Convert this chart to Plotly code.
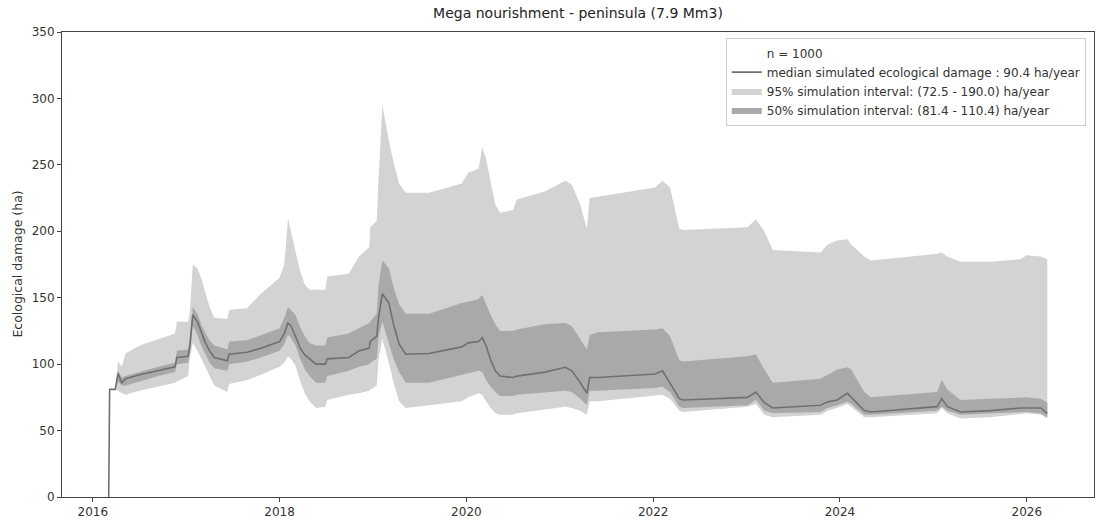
import plotly.graph_objects as go

# decimal years
years = [2016.17, 2016.18, 2016.24, 2016.27, 2016.31, 2016.35, 2016.50, 2016.70, 2016.88, 2016.90,
         2017.02, 2017.04, 2017.07, 2017.12, 2017.16, 2017.20, 2017.25, 2017.30, 2017.44, 2017.46,
         2017.65, 2017.80, 2018.00, 2018.05, 2018.09, 2018.12, 2018.17, 2018.22, 2018.27, 2018.32,
         2018.39, 2018.49, 2018.51, 2018.74, 2018.85, 2018.96, 2018.97, 2019.04, 2019.06, 2019.10,
         2019.17, 2019.22, 2019.28, 2019.35, 2019.60, 2019.95, 2020.02, 2020.13, 2020.17, 2020.21,
         2020.26, 2020.31, 2020.36, 2020.50, 2020.54, 2020.84, 2021.06, 2021.13, 2021.22, 2021.29,
         2021.32, 2021.41, 2022.02, 2022.10, 2022.18, 2022.28, 2022.32, 2023.01, 2023.10, 2023.19,
         2023.28, 2023.79, 2023.87, 2023.97, 2024.08, 2024.12, 2024.26, 2024.33, 2025.04, 2025.09,
         2025.15, 2025.29, 2025.61, 2025.93, 2026.00, 2026.15, 2026.22]

p025 = [0, 81, 81, 80, 78, 77, 80, 83, 86, 87,
        91, 105, 116, 110, 104, 98, 91, 84, 79, 85,
        88, 92, 98, 101, 106, 104, 99, 87, 78, 72,
        67, 68, 73, 77, 78, 80, 81, 84, 104, 119,
        101, 86, 72, 67, 69, 72, 75, 78, 77, 72,
        67, 63, 62, 62, 63, 66, 68, 67, 65, 62,
        72, 72, 76, 77, 74, 65, 64, 68, 70, 62,
        60, 62, 65, 67, 70, 68, 60, 60, 63, 67,
        63, 59, 60, 62, 63, 62, 59]

p25 = [0, 81, 81, 87, 84, 84, 87, 91, 94, 100,
       101, 108, 129, 122, 114, 108, 101, 97, 95, 100,
       102, 105, 110, 115, 122, 120, 114, 104, 96, 91,
       86, 86, 91, 95, 98, 100, 101, 104, 120, 132,
       116, 104, 94, 86, 86, 92, 93, 95, 94, 88,
       83, 79, 76, 76, 77, 79, 80, 79, 74, 69,
       80, 80, 82, 83, 79, 68, 67, 69, 73, 65,
       63, 64, 67, 69, 71.6, 70, 62, 62, 65, 68,
       65, 62, 63, 64, 64, 63, 60]

median = [0, 81, 81, 93, 86, 89, 92, 95, 98, 105,
          106, 114, 137, 132, 124, 117, 110, 105, 102.5, 107.5,
          109, 112, 117, 123, 131, 129, 121, 112, 107, 104,
          100, 100, 104, 105, 110, 112, 117, 121, 135, 153,
          146, 130, 115, 107.5, 108, 113, 116, 117, 120, 114,
          103, 95, 91, 90, 91, 94, 97.6, 95, 86, 78,
          90, 90, 92.6, 95, 86, 74, 73, 75, 79, 71,
          67, 69, 71.6, 73, 78, 75, 65, 64, 68, 74,
          68, 64, 65, 67, 67, 67, 63]

p75 = [0, 81, 81, 95, 90, 91, 94, 98, 101, 110,
       111, 120, 143, 138, 130, 124, 118, 114, 111, 117,
       118, 122, 127, 135, 143, 141, 137, 128, 121, 116,
       114, 114, 120, 123, 127, 131, 132, 138, 160, 178,
       172, 158, 145, 138, 138, 146, 147, 149, 152, 145,
       137, 130, 125, 125, 126, 130, 131, 128.6, 119, 111,
       122, 124, 126, 127, 121, 103, 102, 106, 107.5, 96,
       86, 89, 92, 96, 97.6, 96, 79, 75, 79, 88,
       81, 73, 74, 75, 75, 74, 71]

p975 = [0, 81, 81, 102, 98, 108, 114, 119, 123, 132,
        132, 140, 175, 172, 165, 155, 143, 135, 134, 141,
        142, 153, 165, 175, 210, 200, 185, 170, 160, 156,
        156, 156, 166, 168, 181, 188, 203, 208, 240, 295,
        268, 252, 236, 229, 229, 236, 244, 247, 263, 255,
        237, 220, 214, 216, 224, 230, 238, 235, 220, 202,
        225, 226, 233, 238, 233, 202, 201, 203, 209, 200,
        186, 184, 190, 193, 194, 190, 181, 178, 183, 184,
        181, 177, 177, 179, 182, 181, 179]

title = "Mega nourishment - peninsula (7.9 Mm3)"
label_n = "n = 1000"
label_med = "median simulated ecological damage : 90.4 ha/year"
label_95 = "95% simulation interval: (72.5 - 190.0) ha/year"
label_50 = "50% simulation interval: (81.4 - 110.4) ha/year"

light = "#d3d3d3"
dark = "#a9a9a9"
line_col = "#707070"

fig = go.Figure()

# legend-only entry for n
fig.add_trace(go.Scatter(x=[None], y=[None], mode="lines", name=label_n,
                         line=dict(color="rgba(0,0,0,0)", width=1)))
# median legend placeholder order handled by traceorder normal; draw bands first
fig.add_trace(go.Scatter(x=years, y=median, mode="lines", line=dict(width=1.6, color=line_col),
                         name=label_med, visible="legendonly", showlegend=False))

# 95% band
fig.add_trace(go.Scatter(x=years, y=p025, mode="lines", line=dict(width=0, color=light),
                         showlegend=False, hoverinfo="skip"))
fig.add_trace(go.Scatter(x=years, y=p975, mode="lines", line=dict(width=0, color=light),
                         fill="tonexty", fillcolor=light, name=label_95, legendrank=3))
# 50% band
fig.add_trace(go.Scatter(x=years, y=p25, mode="lines", line=dict(width=0, color=dark),
                         showlegend=False, hoverinfo="skip"))
fig.add_trace(go.Scatter(x=years, y=p75, mode="lines", line=dict(width=0, color=dark),
                         fill="tonexty", fillcolor=dark, name=label_50, legendrank=4))
# median
fig.add_trace(go.Scatter(x=years, y=median, mode="lines", line=dict(width=1.6, color=line_col),
                         name=label_med, legendrank=2))
fig.data[0].legendrank = 1

axis_common = dict(showline=True, mirror=True, linecolor="#444", linewidth=1,
                   ticks="outside", ticklen=4, tickcolor="#444", showgrid=False,
                   zeroline=False, tickfont=dict(size=12, color="#333"))

fig.update_layout(
    width=1100, height=524,
    margin=dict(l=62, r=5, t=32, b=21),
    paper_bgcolor="white", plot_bgcolor="white",
    font=dict(family="DejaVu Sans", size=12, color="#333"),
    title=dict(text=title, x=0.5, xref="paper", xanchor="center", y=0.985, yanchor="top",
               font=dict(size=14, color="#222")),
    xaxis=dict(range=[2015.67, 2026.72], tickvals=[2016, 2018, 2020, 2022, 2024, 2026],
               ticktext=["2016", "2018", "2020", "2022", "2024", "2026"], **axis_common),
    yaxis=dict(range=[0, 350], tickvals=[0, 50, 100, 150, 200, 250, 300, 350], **axis_common),
    showlegend=True,
    legend=dict(x=0.992, y=0.988, xanchor="right", yanchor="top", traceorder="normal",
                bgcolor="rgba(255,255,255,0.85)", bordercolor="#cccccc", borderwidth=1,
                font=dict(size=12, color="#333"), tracegroupgap=0, itemwidth=30),
    annotations=[dict(text="Ecological damage (ha)", textangle=-90, xref="paper", yref="paper",
                      x=-0.0435, y=0.5, xanchor="center", yanchor="middle", showarrow=False,
                      font=dict(size=12.5, color="#333"))],
)

fig.write_html("out.html")
